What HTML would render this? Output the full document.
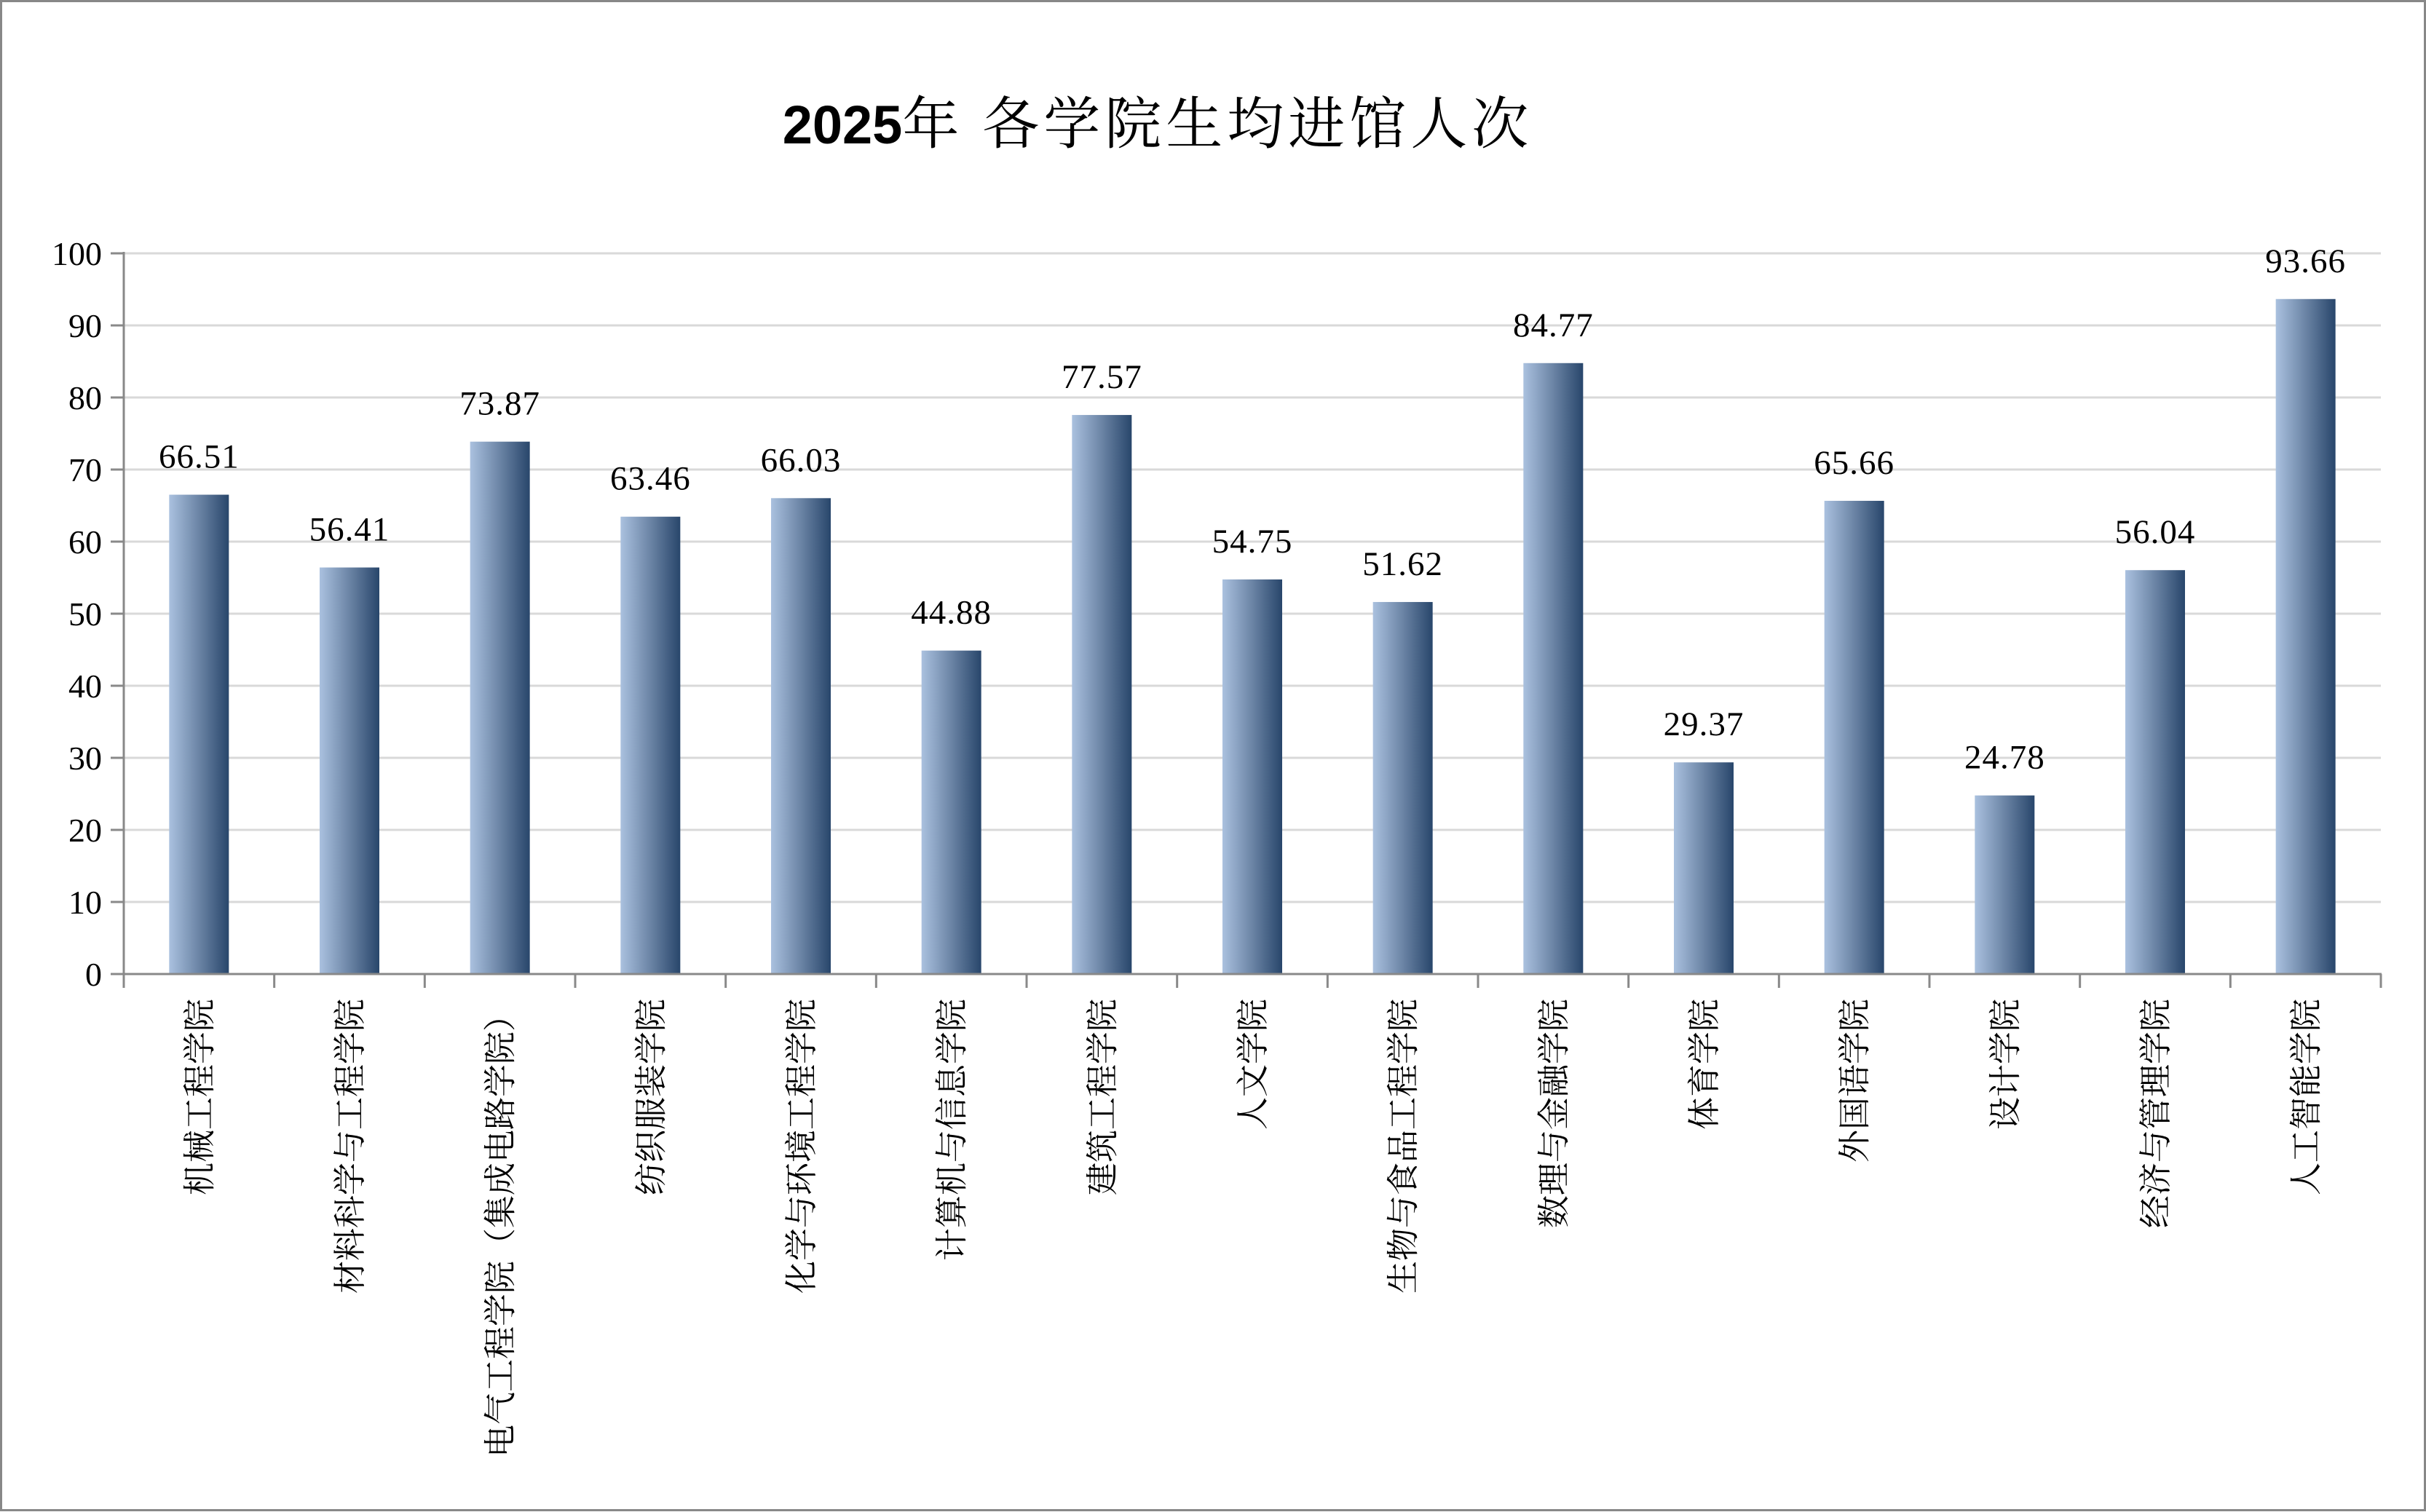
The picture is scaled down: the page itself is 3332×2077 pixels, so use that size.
<!DOCTYPE html>
<html><head><meta charset="utf-8"><style>
html,body{margin:0;padding:0;background:#fff;}
svg{display:block;}
</style></head><body>
<svg width="3332" height="2077" viewBox="0 0 3332 2077" xmlns="http://www.w3.org/2000/svg">
<defs>
<linearGradient id="g" x1="0" y1="0" x2="1" y2="0">
<stop offset="0" stop-color="#aac1df"/>
<stop offset="0.5" stop-color="#6b84a5"/>
<stop offset="1" stop-color="#28466b"/>
</linearGradient>
</defs>
<rect x="1.5" y="1.5" width="3329" height="2073" fill="#fff" stroke="#888" stroke-width="3"/>
<text x="1590" y="197" text-anchor="middle" font-family="'Liberation Sans','Noto Sans CJK SC',sans-serif" font-size="74" font-weight="bold" fill="#000">2025<tspan font-family="'Noto Serif CJK SC','Liberation Serif',serif" font-size="78" font-weight="normal" letter-spacing="6">年  各学院生均进馆人次</tspan></text>
<g stroke="#d9d9d9" stroke-width="3">
<line x1="170" y1="348" x2="3270" y2="348"/>
<line x1="170" y1="447" x2="3270" y2="447"/>
<line x1="170" y1="546" x2="3270" y2="546"/>
<line x1="170" y1="645" x2="3270" y2="645"/>
<line x1="170" y1="744" x2="3270" y2="744"/>
<line x1="170" y1="843" x2="3270" y2="843"/>
<line x1="170" y1="942" x2="3270" y2="942"/>
<line x1="170" y1="1041" x2="3270" y2="1041"/>
<line x1="170" y1="1140" x2="3270" y2="1140"/>
<line x1="170" y1="1239" x2="3270" y2="1239"/>
</g>
<g fill="url(#g)">
<rect x="232.33" y="679.55" width="82" height="658.45"/>
<rect x="439" y="779.54" width="82" height="558.46"/>
<rect x="645.67" y="606.69" width="82" height="731.31"/>
<rect x="852.33" y="709.75" width="82" height="628.25"/>
<rect x="1059" y="684.30" width="82" height="653.70"/>
<rect x="1265.67" y="893.69" width="82" height="444.31"/>
<rect x="1472.33" y="570.06" width="82" height="767.94"/>
<rect x="1679" y="795.97" width="82" height="542.03"/>
<rect x="1885.67" y="826.96" width="82" height="511.04"/>
<rect x="2092.33" y="498.78" width="82" height="839.22"/>
<rect x="2299" y="1047.24" width="82" height="290.76"/>
<rect x="2505.67" y="687.97" width="82" height="650.03"/>
<rect x="2712.33" y="1092.68" width="82" height="245.32"/>
<rect x="2919" y="783.20" width="82" height="554.80"/>
<rect x="3125.67" y="410.77" width="82" height="927.23"/>
</g>
<g stroke="#898989" stroke-width="3">
<line x1="170" y1="346" x2="170" y2="1357"/>
<line x1="152" y1="1338" x2="3271" y2="1338"/>
<line x1="152" y1="348" x2="170" y2="348"/><line x1="152" y1="447" x2="170" y2="447"/><line x1="152" y1="546" x2="170" y2="546"/><line x1="152" y1="645" x2="170" y2="645"/><line x1="152" y1="744" x2="170" y2="744"/><line x1="152" y1="843" x2="170" y2="843"/><line x1="152" y1="942" x2="170" y2="942"/><line x1="152" y1="1041" x2="170" y2="1041"/><line x1="152" y1="1140" x2="170" y2="1140"/><line x1="152" y1="1239" x2="170" y2="1239"/>
<line x1="376.67" y1="1338" x2="376.67" y2="1357"/>
<line x1="583.33" y1="1338" x2="583.33" y2="1357"/>
<line x1="790" y1="1338" x2="790" y2="1357"/>
<line x1="996.67" y1="1338" x2="996.67" y2="1357"/>
<line x1="1203.33" y1="1338" x2="1203.33" y2="1357"/>
<line x1="1410" y1="1338" x2="1410" y2="1357"/>
<line x1="1616.67" y1="1338" x2="1616.67" y2="1357"/>
<line x1="1823.33" y1="1338" x2="1823.33" y2="1357"/>
<line x1="2030" y1="1338" x2="2030" y2="1357"/>
<line x1="2236.67" y1="1338" x2="2236.67" y2="1357"/>
<line x1="2443.33" y1="1338" x2="2443.33" y2="1357"/>
<line x1="2650" y1="1338" x2="2650" y2="1357"/>
<line x1="2856.67" y1="1338" x2="2856.67" y2="1357"/>
<line x1="3063.33" y1="1338" x2="3063.33" y2="1357"/>
<line x1="3270" y1="1338" x2="3270" y2="1357"/>
</g>
<g font-family="'Liberation Serif',serif" font-size="46" text-anchor="end" fill="#000">
<text x="140" y="364">100</text><text x="140" y="463">90</text><text x="140" y="562">80</text><text x="140" y="661">70</text><text x="140" y="760">60</text><text x="140" y="859">50</text><text x="140" y="958">40</text><text x="140" y="1057">30</text><text x="140" y="1156">20</text><text x="140" y="1255">10</text><text x="140" y="1354">0</text>
</g>
<g font-family="'Liberation Serif',serif" font-size="47" letter-spacing="1" text-anchor="middle" fill="#000">
<text x="273.33" y="642.5">66.51</text>
<text x="480" y="742.5">56.41</text>
<text x="686.67" y="569.7">73.87</text>
<text x="893.33" y="672.7">63.46</text>
<text x="1100" y="647.3">66.03</text>
<text x="1306.67" y="856.7">44.88</text>
<text x="1513.33" y="533.1">77.57</text>
<text x="1720" y="759">54.75</text>
<text x="1926.67" y="790">51.62</text>
<text x="2133.33" y="461.8">84.77</text>
<text x="2340" y="1010.2">29.37</text>
<text x="2546.67" y="651">65.66</text>
<text x="2753.33" y="1055.7">24.78</text>
<text x="2960" y="746.2">56.04</text>
<text x="3166.67" y="373.8">93.66</text>
</g>
<g font-family="'Noto Serif CJK SC','Liberation Serif',serif" font-size="45" text-anchor="end" fill="#000">
<text transform="translate(289.33,1372) rotate(-90)">机械工程学院</text>
<text transform="translate(496,1372) rotate(-90)">材料科学与工程学院</text>
<text transform="translate(702.67,1372) rotate(-90)">电气工程学院（集成电路学院）</text>
<text transform="translate(909.33,1372) rotate(-90)">纺织服装学院</text>
<text transform="translate(1116,1372) rotate(-90)">化学与环境工程学院</text>
<text transform="translate(1322.67,1372) rotate(-90)">计算机与信息学院</text>
<text transform="translate(1529.33,1372) rotate(-90)">建筑工程学院</text>
<text transform="translate(1736,1372) rotate(-90)">人文学院</text>
<text transform="translate(1942.67,1372) rotate(-90)">生物与食品工程学院</text>
<text transform="translate(2149.33,1372) rotate(-90)">数理与金融学院</text>
<text transform="translate(2356,1372) rotate(-90)">体育学院</text>
<text transform="translate(2562.67,1372) rotate(-90)">外国语学院</text>
<text transform="translate(2769.33,1372) rotate(-90)">设计学院</text>
<text transform="translate(2976,1372) rotate(-90)">经济与管理学院</text>
<text transform="translate(3182.67,1372) rotate(-90)">人工智能学院</text>
</g>
</svg>
</body></html>
